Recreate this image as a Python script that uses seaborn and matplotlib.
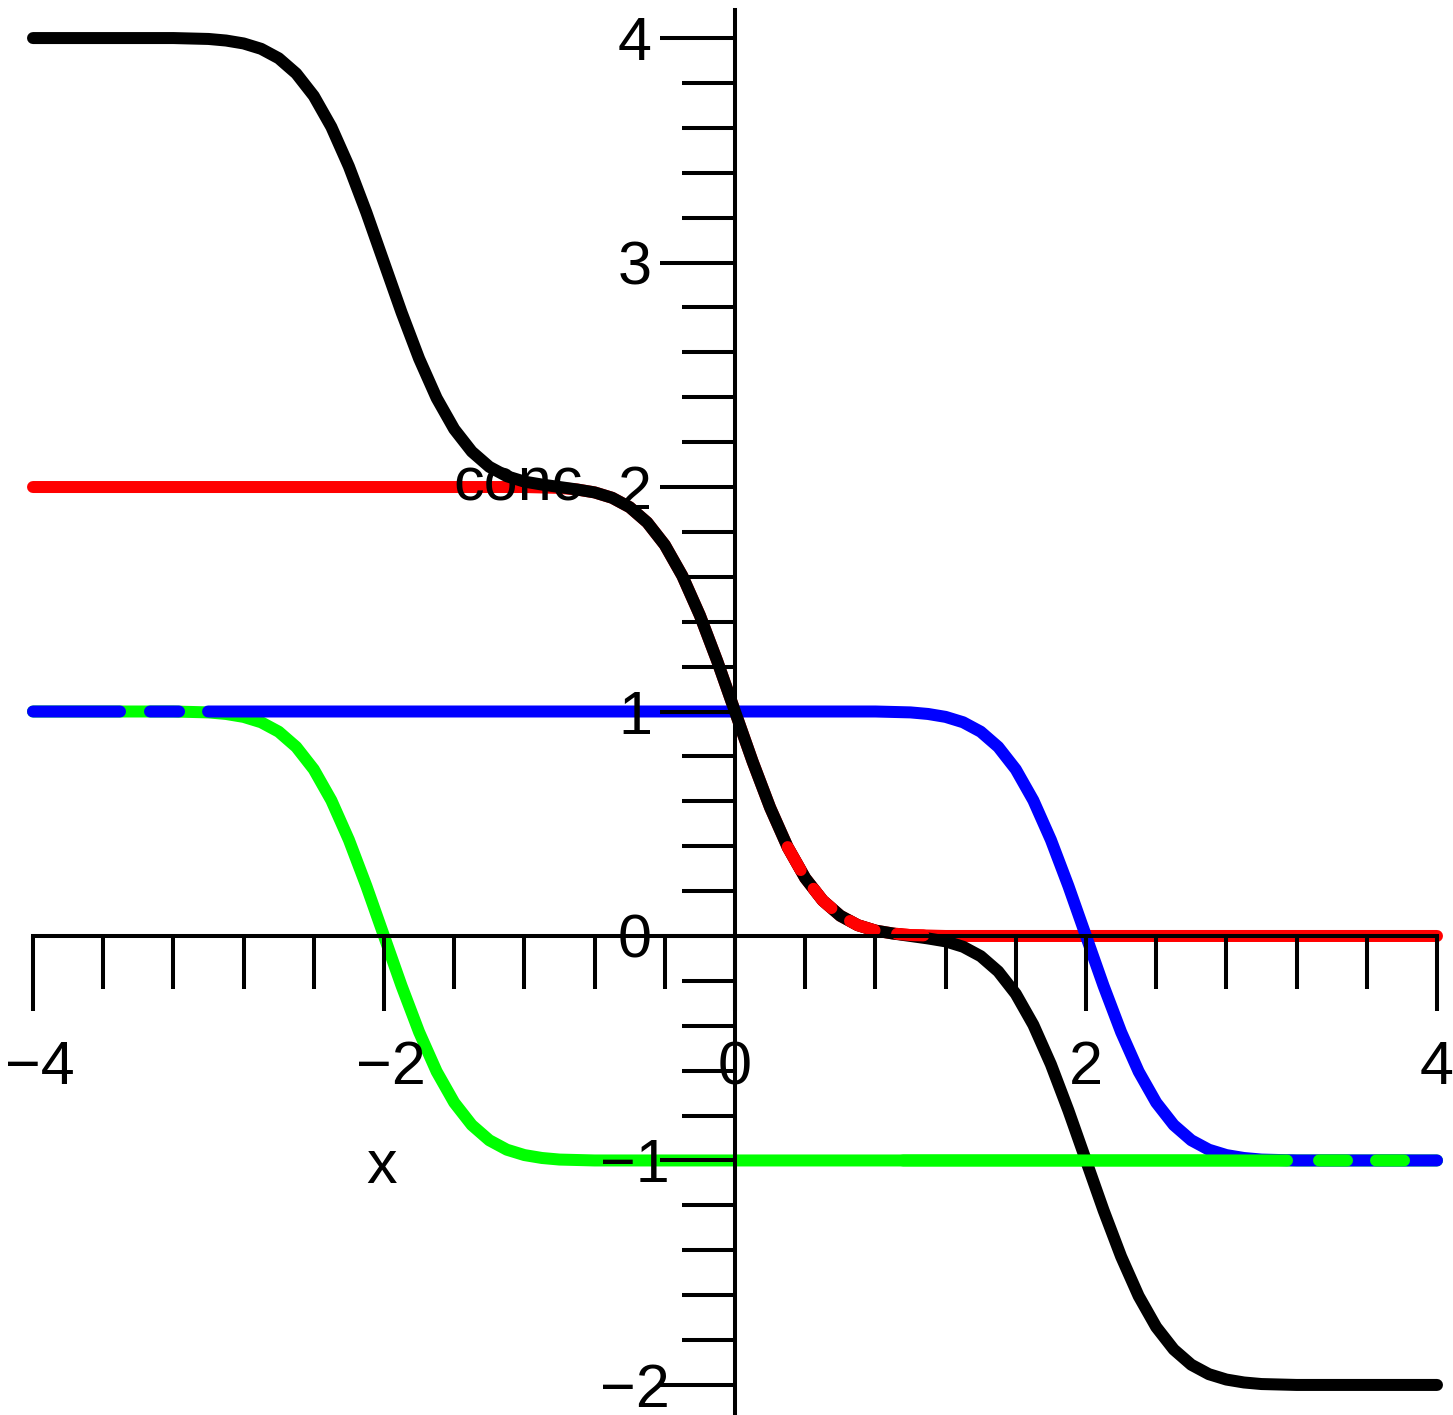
import numpy as np
import matplotlib
matplotlib.use("Agg")
import matplotlib.pyplot as plt
import matplotlib.transforms as mtransforms
import seaborn as sns
from matplotlib.ticker import FixedLocator, MultipleLocator

import warnings
warnings.filterwarnings("ignore")

# curves
red_x = [-4.0, -1.2, -1.0, -0.9, -0.8, -0.7, -0.6, -0.5, -0.4, -0.3, -0.2, -0.1, 0.0,
         0.1, 0.2, 0.3, 0.4, 0.5, 0.6, 0.7, 0.8, 0.9, 1.0, 1.2, 4.0]
red_y = [2.0, 2.0, 1.996, 1.989, 1.976, 1.952, 1.91, 1.842, 1.742, 1.604, 1.428, 1.222, 1.0,
         0.778, 0.572, 0.396, 0.258, 0.158, 0.09, 0.048, 0.024, 0.011, 0.004, 0.0, 0.0]

blue_x = [-4.0, 0.8, 1.0, 1.1, 1.2, 1.3, 1.4, 1.5, 1.6, 1.7, 1.8, 1.9, 2.0,
          2.1, 2.2, 2.3, 2.4, 2.5, 2.6, 2.7, 2.8, 2.9, 3.0, 3.2, 4.0]
blue_y = [1.0, 1.0, 0.996, 0.989, 0.976, 0.952, 0.91, 0.842, 0.742, 0.604, 0.428, 0.222, 0.0,
          -0.222, -0.428, -0.604, -0.742, -0.842, -0.91, -0.952, -0.976, -0.989, -0.996, -1.0, -1.0]

green_x = [-4.0, -3.2, -3.0, -2.9, -2.8, -2.7, -2.6, -2.5, -2.4, -2.3, -2.2, -2.1, -2.0,
           -1.9, -1.8, -1.7, -1.6, -1.5, -1.4, -1.3, -1.2, -1.1, -1.0, -0.8, 4.0]
green_y = [1.0, 1.0, 0.996, 0.989, 0.976, 0.952, 0.91, 0.842, 0.742, 0.604, 0.428, 0.222, 0.0,
           -0.222, -0.428, -0.604, -0.742, -0.842, -0.91, -0.952, -0.976, -0.989, -0.996, -1.0, -1.0]

black_x = [-4.0, -3.2, -3.0, -2.9, -2.8, -2.7, -2.6, -2.5, -2.4, -2.3, -2.2, -2.1, -2.0,
           -1.9, -1.8, -1.7, -1.6, -1.5, -1.4, -1.3, -1.2, -1.1, -1.0,
           -0.9, -0.8, -0.7, -0.6, -0.5, -0.4, -0.3, -0.2, -0.1, 0.0,
           0.1, 0.2, 0.3, 0.4, 0.5, 0.6, 0.7, 0.8, 0.9, 1.0,
           1.1, 1.2, 1.3, 1.4, 1.5, 1.6, 1.7, 1.8, 1.9, 2.0,
           2.1, 2.2, 2.3, 2.4, 2.5, 2.6, 2.7, 2.8, 2.9, 3.0, 3.2, 4.0]
black_y = [4.0, 4.0, 3.996, 3.989, 3.976, 3.952, 3.91, 3.842, 3.742, 3.604, 3.428, 3.222, 3.0,
           2.778, 2.572, 2.396, 2.258, 2.158, 2.09, 2.048, 2.024, 2.011, 2.0,
           1.989, 1.976, 1.952, 1.91, 1.842, 1.742, 1.604, 1.428, 1.222, 1.0,
           0.778, 0.572, 0.396, 0.258, 0.158, 0.09, 0.048, 0.024, 0.011, 0.0,
           -0.011, -0.024, -0.048, -0.09, -0.158, -0.258, -0.396, -0.572, -0.778, -1.0,
           -1.222, -1.428, -1.604, -1.742, -1.842, -1.91, -1.952, -1.976, -1.989, -1.996, -2.0, -2.0]

x_ticks = [-4, -2, 0, 2, 4]
x_tick_labels = ["\u22124", "\u22122", "0", "2", "4"]
y_ticks = [-2, -1, 0, 1, 2, 3, 4]
y_tick_labels = ["\u22122", "\u22121", "0", "1", "2", "3", "4"]

sns.set_style("white")
plt.rcParams["font.family"] = ["Liberation Sans", "DejaVu Sans"]
plt.rcParams["text.color"] = "black"

fig = plt.figure(figsize=(14.53, 14.15), dpi=100)
ax = fig.add_axes([33 / 1453, 2 / 1415, 1404 / 1453, 1403 / 1415])

lw = 8.64
common = dict(linewidth=lw, solid_capstyle="round", dash_capstyle="round",
              estimator=None, legend=False, clip_on=False, ax=ax)

sns.lineplot(x=red_x, y=red_y, color="#ff0000", **common)
sns.lineplot(x=green_x, y=green_y, color="#00ff00", **common)
# blue sits on the green at the left with two small gaps
sns.lineplot(x=blue_x, y=blue_y, color="#0000ff",
             linestyle=(0, (7.25, 2.5, 2.42, 2.42, 400, 1)), **common)
sns.lineplot(x=black_x, y=black_y, color="black", **common)

# red dashes lying over the black curve
rx, ry = np.array(red_x), np.array(red_y)
m = (rx >= 0.3) & (rx <= 1.2)
sns.lineplot(x=rx[m], y=ry[m], color="#ff0000", linestyle=(0, (2.2, 1.9)), **common)

# green dashes over blue near the right end (drawn from the right)
pat = (2.33, 2.42, 2.33, 2.67, 32, 400)
sns.lineplot(x=green_x[::-1], y=green_y[::-1], color="#00ff00", sort=False,
             linestyle=(sum(pat) - 2.75, pat), **common)

ax.set_xlim(-4, 4)
ax.set_ylim(-2.125, 4.125)
ax.set_xlabel("")
ax.set_ylabel("")

for side in ["top", "right"]:
    ax.spines[side].set_visible(False)
ax.spines["left"].set_position(("data", 0))
ax.spines["bottom"].set_position(("data", 0))
for side in ["left", "bottom"]:
    ax.spines[side].set_linewidth(2.9)
    ax.spines[side].set_color("black")
ax.set_axisbelow(False)

ax.xaxis.set_major_locator(FixedLocator(x_ticks))
ax.set_xticklabels(x_tick_labels)
ax.xaxis.set_minor_locator(MultipleLocator(0.4))
ax.yaxis.set_major_locator(FixedLocator(y_ticks))
ax.set_yticklabels(y_tick_labels)
ax.yaxis.set_minor_locator(MultipleLocator(0.2))

ax.tick_params(which="both", bottom=True, left=True, direction="out",
               width=2.9, color="black", labelcolor="black", labelsize=44)
ax.tick_params(which="major", length=54)
ax.tick_params(which="minor", length=38)
ax.tick_params(axis="x", which="major", pad=21)
ax.tick_params(axis="y", which="major", pad=18)

# y labels are centred in a column left of the axis
for lab in ax.get_yticklabels():
    lab.set_horizontalalignment("center")
# negative x labels sit a little to the right of their tick
shift = mtransforms.ScaledTranslation(7 / 100, 0, fig.dpi_scale_trans)
for lab in ax.get_xticklabels():
    if lab.get_text().startswith("\u2212"):
        lab.set_transform(lab.get_transform() + shift)

ax.text(-1.607, 1.942, "conc", fontsize=44, color="black",
        ha="left", va="baseline", zorder=3)
ax.text(-2.014, -1.10, "x", fontsize=44, color="black",
        ha="center", va="baseline", zorder=3)

fig.savefig("out.png", dpi=100)
